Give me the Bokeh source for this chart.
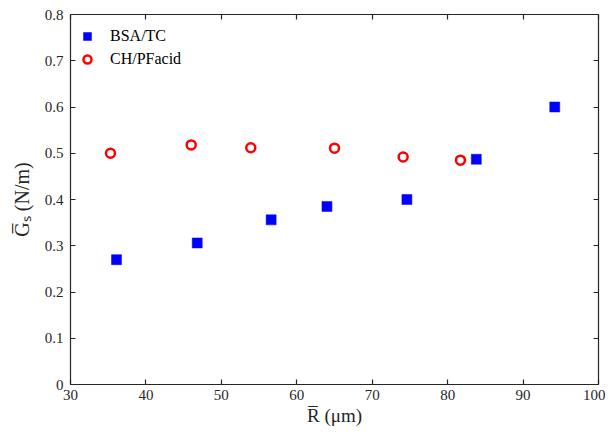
from bokeh.plotting import figure
from bokeh.models import Range1d, LinearAxis, FixedTicker, Legend, LegendItem
from bokeh.embed import file_html
from bokeh.resources import INLINE

# Data
bsa_x = [36.1, 46.8, 56.6, 64.0, 74.6, 83.8, 94.2]
bsa_y = [0.270, 0.306, 0.356, 0.385, 0.400, 0.487, 0.600]
ch_x = [35.3, 46.0, 53.9, 65.0, 74.1, 81.7]
ch_y = [0.500, 0.518, 0.512, 0.511, 0.492, 0.485]

x_ticks = [30, 40, 50, 60, 70, 80, 90, 100]
y_ticks = [0, 0.1, 0.2, 0.3, 0.4, 0.5, 0.6, 0.7, 0.8]
y_tick_labels = ["0", "0.1", "0.2", "0.3", "0.4", "0.5", "0.6", "0.7", "0.8"]

FONT = "Liberation Serif"
AX = "#262626"

p = figure(width=605, height=431, output_backend="svg", toolbar_location=None,
           x_range=Range1d(30, 100), y_range=Range1d(0, 0.8),
           min_border_left=70, min_border_right=7, min_border_top=14, min_border_bottom=47)
p.outline_line_color = None
p.grid.visible = False
p.background_fill_color = "white"
p.border_fill_color = "white"

def style(ax):
    ax.axis_line_color = AX
    ax.axis_line_width = 1.2
    ax.major_tick_line_color = AX
    ax.major_tick_line_width = 1.2
    ax.major_tick_in = 5
    ax.major_tick_out = 0
    ax.minor_tick_line_color = None
    ax.major_label_text_font = FONT
    ax.major_label_text_font_size = "15px"
    ax.major_label_text_color = AX
    ax.major_label_standoff = 7
    ax.axis_label_text_font = FONT
    ax.axis_label_text_font_style = "normal"
    ax.axis_label_text_font_size = "20px"
    ax.axis_label_text_color = AX

xa = p.xaxis[0]
ya = p.yaxis[0]
xa.ticker = FixedTicker(ticks=x_ticks)
ya.ticker = FixedTicker(ticks=y_ticks)
ya.major_label_overrides = {t: l for t, l in zip(y_ticks, y_tick_labels)}
style(xa)
style(ya)
xa.axis_label = "R\u0305 (\u03bcm)"
ya.axis_label = "G\u0305\u209b (N/m)"
xa.major_label_standoff = 5
xa.axis_label_text_font_size = "19px"
xa.axis_label_standoff = 2
ya.axis_label_standoff = 9

ra = LinearAxis(ticker=FixedTicker(ticks=y_ticks))
ta = LinearAxis(ticker=FixedTicker(ticks=x_ticks))
style(ra)
style(ta)
ra.major_label_overrides = {t: "" for t in y_ticks}
ta.major_label_overrides = {t: "" for t in x_ticks}
ra.major_label_standoff = 0
ta.major_label_standoff = 0
p.add_layout(ra, "right")
p.add_layout(ta, "above")

r1 = p.scatter(bsa_x, bsa_y, marker="square", size=10, fill_color="#0000ff", line_color="#0000ff", line_width=0.5)
r2 = p.scatter(ch_x, ch_y, marker="circle", size=9, fill_color=None, line_color="#ff0000", line_width=2.5)

legend = Legend(items=[LegendItem(label="BSA/TC", renderers=[r1]),
                       LegendItem(label="CH/PFacid", renderers=[r2])],
                location=(7, 314), margin=0, padding=0, spacing=1,
                glyph_width=20, glyph_height=22, label_height=22, label_standoff=13,
                label_text_font=FONT, label_text_font_size="16px", label_text_color="black",
                border_line_alpha=0, background_fill_alpha=0)
p.add_layout(legend, "center")

open("out.html", "w").write(file_html(p, INLINE))
